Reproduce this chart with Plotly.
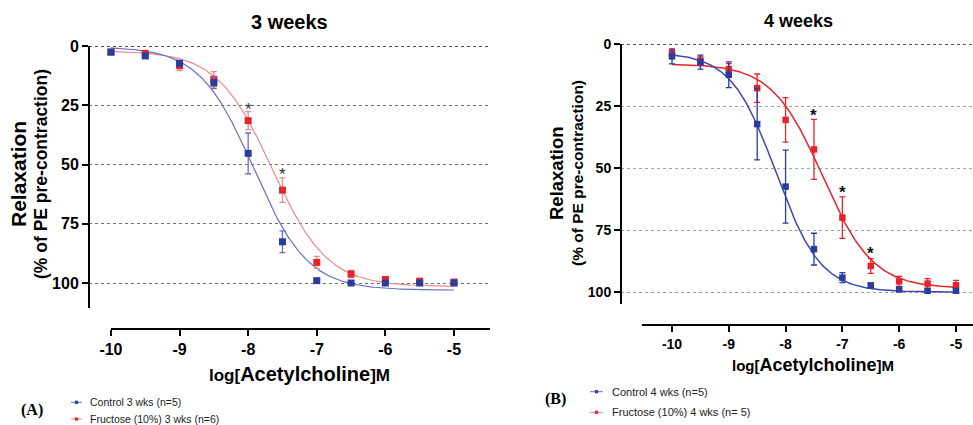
import numpy as np
import plotly.graph_objects as go

W, H = 973, 425

# ---------------- data ----------------
log_ach = [-10, -9.5, -9, -8.5, -8, -7.5, -7, -6.5, -6, -5.5, -5]

ctrl3_mean = [2.6, 4.2, 7.3, 15.5, 45.3, 82.6, 99.0, 100.0, 100.0, 100.0, 100.0]
ctrl3_sem = [0.8, 1.0, 1.2, 2.5, 8.6, 4.6, 0.8, 0.5, 0.5, 0.5, 0.5]
fru3_mean = [2.5, 3.1, 8.3, 14.0, 31.5, 60.8, 91.3, 96.2, 98.5, 99.2, 99.6]
fru3_sem = [0.8, 0.8, 2.0, 3.2, 3.8, 5.2, 2.5, 1.5, 1.0, 0.8, 0.8]

ctrl4_mean = [5.0, 7.3, 12.4, 32.3, 57.5, 82.7, 94.2, 97.3, 99.0, 99.5, 99.5]
ctrl4_sem = [3.0, 2.8, 5.2, 14.4, 14.7, 6.4, 2.0, 0.8, 0.5, 0.5, 0.5]
fru4_mean = [3.6, 6.7, 10.1, 17.8, 30.6, 42.5, 70.0, 89.5, 95.7, 96.6, 97.3]
fru4_sem = [1.2, 1.5, 2.2, 5.7, 9.0, 12.1, 8.4, 3.0, 2.0, 2.0, 2.0]

# fitted sigmoid (bottom, top, logEC50, hill slope)
fit_ctrl3 = (0.3, 103.0, -7.92, 1.1)
fit_fru3 = (2.0, 101.5, -7.65, 1.08)
fit_ctrl4 = (3.5, 100.0, -8.17, 1.1)
fit_fru4 = (8.0, 98.5, -7.35, 0.98)

stars3_x = [-8, -7.5]
stars3_y = [25.3, 52.6]
stars4_x = [-7.5, -7, -6.5]
stars4_y = [27.2, 58.2, 82.9]

yticks = [0, 25, 50, 75, 100]
xticks = [-10, -9, -8, -7, -6, -5]
xtick_labels = ["-10", "-9", "-8", "-7", "-6", "-5"]

# ---------------- style ----------------
BLUE = "#2b3d9c"
RED = "#e8242b"
BLUE_L = "#6870c4"
RED_L = "#e98a8c"
FONT = "Liberation Sans"


def px(x):
    return x / W


def py(y):
    return 1 - y / H


def hill(p, x):
    b, t, e, h = p
    return b + (t - b) / (1 + 10 ** ((e - x) * h))


xfit = np.linspace(-10, -5, 300)

fig = go.Figure()


def add_panel(xa, ya, ctrl_m, ctrl_s, fru_m, fru_s, fc, ff, cline, rline, cerr, rerr, msize, lw):
    fig.add_trace(go.Scatter(x=xfit, y=hill(ff, xfit), mode="lines",
                             line=dict(color=rline, width=lw), xaxis=xa, yaxis=ya,
                             showlegend=False, hoverinfo="skip"))
    fig.add_trace(go.Scatter(x=xfit, y=hill(fc, xfit), mode="lines",
                             line=dict(color=cline, width=lw), xaxis=xa, yaxis=ya,
                             showlegend=False, hoverinfo="skip"))
    fig.add_trace(go.Scatter(x=log_ach, y=fru_m, mode="markers",
                             marker=dict(symbol="square", size=msize, color=RED),
                             error_y=dict(type="data", array=fru_s, color=rerr, thickness=1.3, width=3),
                             xaxis=xa, yaxis=ya, showlegend=False))
    fig.add_trace(go.Scatter(x=log_ach, y=ctrl_m, mode="markers",
                             marker=dict(symbol="square", size=msize, color=BLUE),
                             error_y=dict(type="data", array=ctrl_s, color=cerr, thickness=1.3, width=3),
                             xaxis=xa, yaxis=ya, showlegend=False))


add_panel("x", "y", ctrl3_mean, ctrl3_sem, fru3_mean, fru3_sem, fit_ctrl3, fit_fru3,
          BLUE_L, RED_L, BLUE_L, RED_L, 7, 1.2)
add_panel("x2", "y2", ctrl4_mean, ctrl4_sem, fru4_mean, fru4_sem, fit_ctrl4, fit_fru4,
          "#3c47b2", RED, BLUE, RED, 6.5, 1.5)

common_y = dict(tickvals=yticks, ticks="outside", ticklen=6, tickwidth=2, tickcolor="black",
                showline=False, zeroline=False, showgrid=True, griddash="dot", gridwidth=1,
                automargin=False)
common_x = dict(tickvals=xticks, ticktext=xtick_labels, ticks="outside", ticklen=6, tickwidth=2,
                tickcolor="black", showline=False, zeroline=False, showgrid=False,
                automargin=False)

fig.update_layout(
    template="none",
    width=W, height=H, autosize=False, margin=dict(l=0, r=0, t=0, b=0, pad=0),
    paper_bgcolor="white", plot_bgcolor="white",
    showlegend=False,
    xaxis=dict(domain=[px(89), px(490)], range=[-10.32, -4.475], anchor="y",
               tickfont=dict(family=FONT, size=16, color="black", weight="bold"), **common_x),
    yaxis=dict(domain=[py(329), py(46)], range=[119.4, 0], anchor="x", gridcolor="#6f6f6f",
               tickfont=dict(family=FONT, size=16, color="black", weight="bold"), **common_y),
    xaxis2=dict(domain=[px(621), 1.0], range=[-10.898, -4.70], anchor="y2",
                tickfont=dict(family=FONT, size=14, color="black", weight="bold"), **common_x),
    yaxis2=dict(domain=[py(325), py(44)], range=[113.3, 0], anchor="x2", gridcolor="#a0a0a0",
                tickfont=dict(family=FONT, size=14, color="black", weight="bold"), **common_y),
)

shapes = []
# zero reference lines (black dotted)
shapes.append(dict(type="line", xref="x domain", yref="y", x0=0, x1=1, y0=0, y1=0,
                   line=dict(color="#222222", width=1.3, dash="dot")))
shapes.append(dict(type="line", xref="x2 domain", yref="y2", x0=0, x1=1, y0=0, y1=0,
                   line=dict(color="#222222", width=1.3, dash="dot")))
# axis lines
shapes.append(dict(type="line", xref="x domain", yref="y", x0=0, x1=0, y0=0, y1=110.5,
                   line=dict(color="black", width=2)))
shapes.append(dict(type="line", xref="x", yref="y domain", x0=-10, x1=-4.475, y0=0, y1=0,
                   line=dict(color="black", width=2)))
shapes.append(dict(type="line", xref="x2 domain", yref="y2", x0=0, x1=0, y0=0, y1=104.8,
                   line=dict(color="black", width=2)))
shapes.append(dict(type="line", xref="x2", yref="y2 domain", x0=-10.53, x1=-4.70, y0=0, y1=0,
                   line=dict(color="black", width=2)))

# legend symbols
def legend_symbol(xl, xr, yc, color, lcolor):
    shapes.append(dict(type="line", xref="paper", yref="paper", x0=px(xl), x1=px(xr),
                       y0=py(yc), y1=py(yc), line=dict(color=lcolor, width=1)))
    xc = (xl + xr) / 2
    shapes.append(dict(type="rect", xref="paper", yref="paper", x0=px(xc - 1.6), x1=px(xc + 1.6),
                       y0=py(yc + 1.6), y1=py(yc - 1.6), line=dict(width=0), fillcolor=color))


legend_symbol(71, 82, 402.3, BLUE, BLUE_L)
legend_symbol(71, 82, 419, RED, RED_L)
legend_symbol(590, 603, 391.7, BLUE, BLUE_L)
legend_symbol(590, 603, 412.3, RED, RED_L)

fig.update_layout(shapes=shapes)

ann = []


def text(x, y, s, size, bold=True, family=FONT, angle=0, xanchor="center", color="black"):
    ann.append(dict(x=px(x), y=py(y), xref="paper", yref="paper", text=s, showarrow=False,
                    xanchor=xanchor, yanchor="middle", textangle=angle,
                    font=dict(family=family, size=size, color=color,
                              weight="bold" if bold else "normal")))


text(289, 22, "3 weeks", 20)
text(798, 21, "4 weeks", 18)
text(18, 174, "Relaxation", 21, angle=-90)
text(41, 174, "(% of PE pre-contraction)", 17.5, angle=-90)
text(557, 173, "Relaxation", 18.5, angle=-90)
text(578, 173, "(% of PE pre-contraction)", 15.5, angle=-90)
text(299, 374, "<span style='font-size:17px'>log[</span>Acetylcholine<span style='font-size:17px'>]M</span>", 20)
text(813, 365, "<span style='font-size:15px'>log[</span>Acetylcholine<span style='font-size:15px'>]M</span>", 18)
text(32, 410, "(A)", 16, family="Liberation Serif")
text(555, 399, "(B)", 16, family="Liberation Serif")
text(88, 402.3, "Control 3 wks (n=5)", 10.5, bold=False, xanchor="left", color="#222222")
text(88, 419, "Fructose (10%) 3 wks (n=6)", 10.5, bold=False, xanchor="left", color="#222222")
text(610, 391.7, "Control 4 wks (n=5)", 11, bold=False, xanchor="left", color="#222222")
text(610, 412.3, "Fructose (10%) 4 wks (n= 5)", 11, bold=False, xanchor="left", color="#222222")

for sx, sy in zip(stars3_x, stars3_y):
    ann.append(dict(x=sx, y=sy, xref="x", yref="y", text="*", showarrow=False, yshift=-4,
                    font=dict(family=FONT, size=17, color="#333333")))
for sx, sy in zip(stars4_x, stars4_y):
    ann.append(dict(x=sx, y=sy, xref="x2", yref="y2", text="*", showarrow=False, yshift=-4,
                    font=dict(family=FONT, size=17, color="#111111", weight="bold")))

fig.update_layout(annotations=ann)

fig.write_html(
    "out.html",
    config={"displayModeBar": False, "responsive": False},
    post_script="document.body.style.margin='0';document.body.style.overflow='hidden';"
                "document.documentElement.style.overflow='hidden';",
)
